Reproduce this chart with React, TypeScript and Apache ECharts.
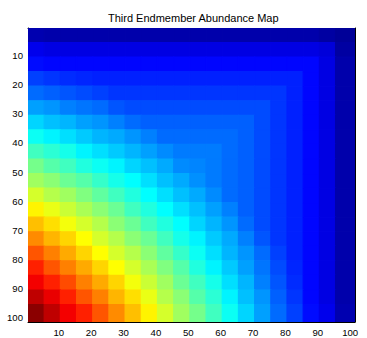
import React, { useEffect, useRef } from "react";
import * as echarts from "echarts";

// Tick categories 1..101 on both axes (y runs top to bottom)
const categories: string[] = Array.from({ length: 101 }, (_, i) => String(i + 1));

// Blocks of the picture that each estimated value covers (1-based pixel indices)
const blockStarts = [1, 6, 11, 16, 21, 26, 31, 36, 41, 46, 51, 56, 61, 66, 71, 76, 81, 86, 91, 96];
const blockEnds = [5, 10, 15, 20, 25, 30, 35, 40, 45, 50, 55, 60, 65, 70, 75, 80, 85, 90, 95, 101];

// Abundance, one row per y-block (top to bottom), left to right
const rowY01 = [0.035, 0.03, 0.03, 0.03, 0.03, 0.03, 0.03, 0.03, 0.03, 0.03, 0.03, 0.03, 0.03, 0.03, 0.03, 0.03, 0.03, 0.03, 0.02, 0.01];
const rowY06 = [0.1, 0.09, 0.09, 0.09, 0.09, 0.09, 0.09, 0.09, 0.09, 0.09, 0.09, 0.09, 0.09, 0.09, 0.09, 0.09, 0.09, 0.09, 0.08, 0.02];
const rowY11 = [0.13, 0.125, 0.125, 0.125, 0.125, 0.125, 0.125, 0.125, 0.125, 0.125, 0.125, 0.125, 0.125, 0.125, 0.125, 0.125, 0.125, 0.125, 0.09, 0.03];
const rowY16 = [0.18, 0.17, 0.16, 0.155, 0.15, 0.15, 0.15, 0.15, 0.15, 0.15, 0.15, 0.15, 0.15, 0.15, 0.15, 0.15, 0.15, 0.125, 0.09, 0.03];
const rowY21 = [0.22, 0.21, 0.2, 0.19, 0.18, 0.17, 0.17, 0.17, 0.17, 0.17, 0.17, 0.17, 0.17, 0.17, 0.17, 0.17, 0.15, 0.125, 0.09, 0.03];
const rowY26 = [0.27, 0.26, 0.24, 0.23, 0.22, 0.2, 0.19, 0.19, 0.19, 0.19, 0.19, 0.19, 0.19, 0.19, 0.19, 0.17, 0.15, 0.125, 0.09, 0.03];
const rowY31 = [0.32, 0.3, 0.29, 0.27, 0.26, 0.24, 0.22, 0.21, 0.21, 0.21, 0.21, 0.21, 0.21, 0.21, 0.19, 0.17, 0.15, 0.125, 0.09, 0.03];
const rowY36 = [0.37, 0.35, 0.33, 0.31, 0.29, 0.28, 0.26, 0.24, 0.22, 0.22, 0.22, 0.22, 0.22, 0.21, 0.19, 0.17, 0.15, 0.125, 0.09, 0.03];
const rowY41 = [0.42, 0.4, 0.38, 0.35, 0.33, 0.31, 0.29, 0.27, 0.25, 0.235, 0.235, 0.235, 0.22, 0.21, 0.19, 0.17, 0.15, 0.125, 0.09, 0.03];
const rowY46 = [0.47, 0.44, 0.42, 0.39, 0.37, 0.35, 0.32, 0.3, 0.28, 0.25, 0.245, 0.235, 0.22, 0.21, 0.19, 0.17, 0.15, 0.125, 0.09, 0.03];
const rowY51 = [0.51, 0.49, 0.46, 0.44, 0.41, 0.38, 0.36, 0.33, 0.3, 0.28, 0.255, 0.235, 0.22, 0.21, 0.19, 0.17, 0.15, 0.125, 0.09, 0.03];
const rowY56 = [0.56, 0.53, 0.51, 0.48, 0.45, 0.42, 0.39, 0.36, 0.33, 0.3, 0.28, 0.25, 0.22, 0.21, 0.19, 0.17, 0.15, 0.125, 0.09, 0.03];
const rowY61 = [0.61, 0.58, 0.55, 0.52, 0.49, 0.46, 0.42, 0.39, 0.36, 0.33, 0.3, 0.27, 0.24, 0.21, 0.19, 0.17, 0.15, 0.125, 0.09, 0.03];
const rowY66 = [0.66, 0.63, 0.59, 0.56, 0.53, 0.49, 0.46, 0.42, 0.39, 0.36, 0.32, 0.29, 0.26, 0.22, 0.19, 0.17, 0.15, 0.125, 0.09, 0.03];
const rowY71 = [0.71, 0.67, 0.64, 0.6, 0.56, 0.53, 0.49, 0.46, 0.42, 0.38, 0.35, 0.31, 0.28, 0.24, 0.2, 0.17, 0.15, 0.125, 0.09, 0.03];
const rowY76 = [0.76, 0.72, 0.68, 0.64, 0.6, 0.56, 0.53, 0.49, 0.45, 0.41, 0.37, 0.33, 0.29, 0.26, 0.22, 0.18, 0.15, 0.125, 0.09, 0.03];
const rowY81 = [0.81, 0.76, 0.72, 0.68, 0.64, 0.6, 0.56, 0.52, 0.48, 0.44, 0.39, 0.35, 0.31, 0.27, 0.23, 0.19, 0.155, 0.125, 0.09, 0.03];
const rowY86 = [0.85, 0.81, 0.77, 0.72, 0.68, 0.64, 0.59, 0.55, 0.51, 0.46, 0.42, 0.38, 0.33, 0.29, 0.24, 0.2, 0.16, 0.125, 0.09, 0.03];
const rowY91 = [0.9, 0.86, 0.81, 0.76, 0.72, 0.67, 0.63, 0.58, 0.53, 0.49, 0.44, 0.4, 0.35, 0.3, 0.26, 0.21, 0.17, 0.125, 0.09, 0.03];
const rowY96 = [0.95, 0.9, 0.85, 0.81, 0.76, 0.71, 0.66, 0.61, 0.56, 0.51, 0.47, 0.42, 0.37, 0.32, 0.27, 0.22, 0.18, 0.13, 0.1, 0.035];

const abundanceRows = [
  rowY01, rowY06, rowY11, rowY16, rowY21, rowY26, rowY31, rowY36, rowY41, rowY46,
  rowY51, rowY56, rowY61, rowY66, rowY71, rowY76, rowY81, rowY86, rowY91, rowY96,
];

// MATLAB "jet" colour map
const jet = ["#00008F", "#0000FF", "#0080FF", "#00FFFF", "#80FF80", "#FFFF00", "#FF8000", "#FF0000", "#800000"];

const FONT = "Liberation Sans";

export default function App() {
  const ref = useRef<HTMLDivElement>(null);

  useEffect(() => {
    if (!ref.current) return;
    const chart = echarts.init(ref.current, undefined, { renderer: "svg" });

    const data: number[][] = [];
    abundanceRows.forEach((row, yi) => {
      row.forEach((v, xi) => {
        data.push([blockStarts[xi] - 1, blockStarts[yi] - 1, blockEnds[xi] - 1, blockEnds[yi] - 1, v]);
      });
    });

    const every10 = (idx: number) => (idx + 1) % 10 === 0;

    const baseAxis = {
      type: "category" as const,
      data: categories,
      boundaryGap: true,
      axisLine: { show: true, lineStyle: { color: "#000", width: 1 } },
      axisTick: { show: true, inside: true, length: 3, alignWithLabel: true, interval: every10, lineStyle: { color: "#000" } },
      splitLine: { show: false },
    };

    chart.setOption({
      animation: false,
      backgroundColor: "#fff",
      title: {
        text: "Third Endmember Abundance Map",
        left: 103,
        top: 7,
        textStyle: { fontSize: 11, fontWeight: "normal", color: "#000", fontFamily: FONT },
      },
      grid: { left: 28, top: 28, right: 12, bottom: 16, containLabel: false },
      visualMap: {
        show: false,
        type: "continuous",
        min: 0,
        max: 0.96,
        dimension: 4,
        seriesIndex: 0,
        inRange: { color: jet },
      },
      xAxis: [
        {
          ...baseAxis,
          position: "bottom",
          axisLabel: { show: true, interval: every10, margin: 5, fontSize: 9.6, color: "#000", fontFamily: FONT },
        },
        {
          ...baseAxis,
          position: "top",
          axisLabel: { show: false },
        },
      ],
      yAxis: [
        {
          ...baseAxis,
          inverse: true,
          position: "left",
          axisLabel: { show: true, interval: every10, margin: 5, fontSize: 9.6, color: "#000", fontFamily: FONT },
        },
        {
          ...baseAxis,
          inverse: true,
          position: "right",
          axisLabel: { show: false },
        },
      ],
      series: [
        {
          type: "custom",
          coordinateSystem: "cartesian2d",
          xAxisIndex: 0,
          yAxisIndex: 0,
          encode: { x: [0, 2], y: [1, 3] },
          data,
          clip: true,
          renderItem: (params: any, api: any) => {
            const a = api.coord([api.value(0), api.value(1)]);
            const b = api.coord([api.value(2), api.value(3)]);
            const s = api.size([1, 1]);
            const x0 = Math.min(a[0], b[0]) - s[0] / 2;
            const x1 = Math.max(a[0], b[0]) + s[0] / 2;
            const y0 = Math.min(a[1], b[1]) - s[1] / 2;
            const y1 = Math.max(a[1], b[1]) + s[1] / 2;
            const c = api.visual("color");
            return {
              type: "rect",
              shape: { x: x0, y: y0, width: x1 - x0, height: y1 - y0 },
              style: { fill: c, stroke: c, lineWidth: 1.2 },
            };
          },
          z: 1,
        },
      ],
    });

    return () => chart.dispose();
  }, []);

  return <div ref={ref} style={{ position: "absolute", left: 0, top: 0, width: 367, height: 338 }} />;
}
